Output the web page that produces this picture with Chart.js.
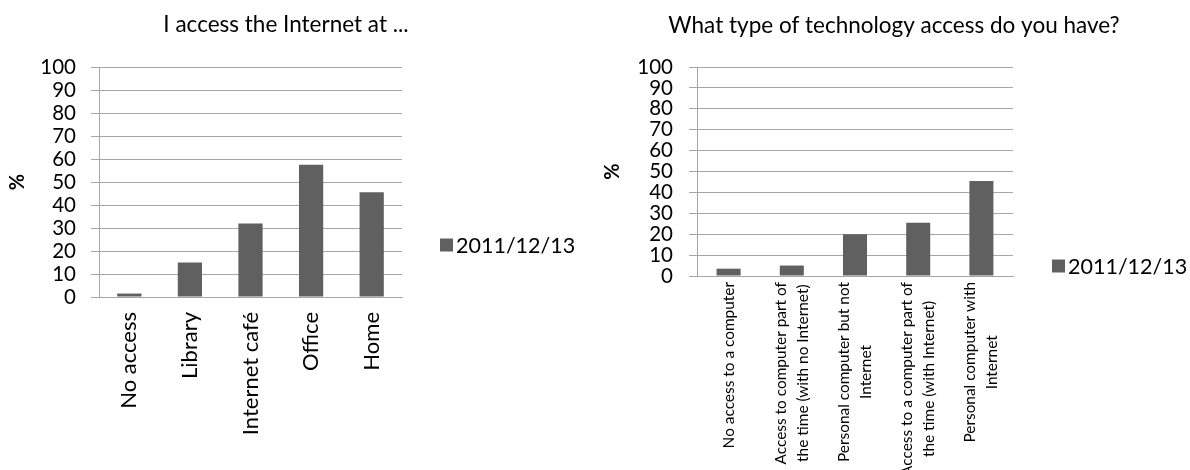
<!DOCTYPE html>
<html>
<head>
<meta charset="utf-8">
<script src="https://cdn.jsdelivr.net/npm/chart.js@4.4.1/dist/chart.umd.min.js"></script>
<style>
  body { margin: 0; background: #fff; }
  canvas { position: absolute; top: 0; }
  #left { left: 0; }
  #right { left: 595px; }
</style>
</head>
<body>
<canvas id="left" width="595" height="470"></canvas>
<canvas id="right" width="595" height="470"></canvas>
<script>
// data
let seriesName = "2011/12/13";
let placeLabels = ["No access", "Library", "Internet café", "Office", "Home"];
let placeValues = [1.5, 15, 32, 57.5, 45.5];
let techLabels = [
  ["No access to a computer"],
  ["Access to computer part of", "the time (with no Internet)"],
  ["Personal computer but not", "Internet"],
  ["Access to a computer part of", "the time (with Internet)"],
  ["Personal computer with", "Internet"]
];
let techValues = [3.5, 5, 20, 25.5, 45.5];
let yTicks = [0, 10, 20, 30, 40, 50, 60, 70, 80, 90, 100];

let barColor = "#606060";
let lineColor = "#a6a6a6";
Chart.defaults.font.family = "Lato, 'Open Sans', sans-serif";
Chart.defaults.color = "#000";

// title + legend drawn at fixed spots, like the excel export
let extras = {
  id: "extras",
  afterDraw(chart, args, o) {
    let ctx = chart.ctx;
    ctx.save();
    ctx.fillStyle = "#000";
    ctx.textBaseline = "middle";
    ctx.textAlign = "center";
    ctx.font = o.titleSize + "px Lato";
    ctx.fillText(o.title, o.titleX, o.titleY);
    let ds = chart.data.datasets[0];
    ctx.fillStyle = ds.backgroundColor;
    ctx.fillRect(o.legendX, o.legendY - 6.5, 13, 13);
    ctx.fillStyle = "#000";
    ctx.textAlign = "left";
    ctx.font = "21.5px Lato";
    ctx.fillText(ds.label, o.legendX + 16, o.legendY + 1);
    // wrapped, rotated category labels (centred lines)
    if (o.wrap) {
      let xs = chart.scales.x;
      ctx.font = o.wrap.size + "px Lato";
      ctx.textAlign = "center";
      chart.data.labels.forEach(function(lines, i) {
        let w = Math.max.apply(null, lines.map(l => ctx.measureText(l).width));
        let cx = xs.getPixelForTick(i);
        let cy = chart.chartArea.bottom + o.wrap.pad + w / 2;
        lines.forEach(function(l, j) {
          ctx.save();
          ctx.translate(cx + (j - (lines.length - 1) / 2) * o.wrap.lineHeight, cy);
          ctx.rotate(-Math.PI / 2);
          ctx.fillText(l, 0, 0);
          ctx.restore();
        });
      });
    }
    ctx.restore();
  }
};

function yAxis(width, pad) {
  return {
    min: 0,
    max: 100,
    afterFit: function(axis) { axis.width = width; },
    afterBuildTicks: function(axis) { axis.ticks = yTicks.map(v => ({ value: v })); },
    grid: { color: lineColor, tickLength: 8 },
    border: { color: lineColor },
    ticks: { font: { size: 20.5 }, padding: pad, autoSkip: false },
    title: { display: true, text: "%", font: { size: 20, weight: "bold" }, padding: { top: 6 } }
  };
}

new Chart(document.getElementById("left"), {
  type: "bar",
  data: {
    labels: placeLabels,
    datasets: [{
      label: seriesName,
      data: placeValues,
      backgroundColor: barColor,
      categoryPercentage: 1,
      barPercentage: 0.4
    }]
  },
  options: {
    responsive: false,
    animation: false,
    layout: { padding: { left: 0, top: 67, right: 193, bottom: 0 } },
    plugins: {
      legend: { display: false },
      tooltip: { enabled: false },
      extras: { title: "I access the Internet at ...", titleSize: 22.5, titleX: 286, titleY: 25, legendX: 440, legendY: 245 }
    },
    scales: {
      x: {
        afterFit: function(axis) { axis.height = 173; },
        grid: { display: false, drawTicks: false },
        border: { color: lineColor },
        ticks: { font: { size: 22 }, minRotation: 90, maxRotation: 90, autoSkip: false, padding: 15 }
      },
      y: yAxis(99, 15)
    }
  },
  plugins: [extras]
});

new Chart(document.getElementById("right"), {
  type: "bar",
  data: {
    labels: techLabels,
    datasets: [{
      label: seriesName,
      data: techValues,
      backgroundColor: barColor,
      categoryPercentage: 1,
      barPercentage: 0.38
    }]
  },
  options: {
    responsive: false,
    animation: false,
    layout: { padding: { left: 0, top: 67, right: 177, bottom: 0 } },
    plugins: {
      legend: { display: false },
      tooltip: { enabled: false },
      extras: {
        title: "What type of technology access do you have?", titleSize: 22.5, titleX: 299, titleY: 26,
        legendX: 457, legendY: 266,
        wrap: { size: 15.4, lineHeight: 22, pad: 6 }
      }
    },
    scales: {
      x: {
        afterFit: function(axis) { axis.height = 194; },
        grid: { display: false, drawTicks: false },
        border: { color: lineColor },
        ticks: { display: false }
      },
      y: yAxis(102, 16)
    }
  },
  plugins: [extras]
});
</script>
</body>
</html>
